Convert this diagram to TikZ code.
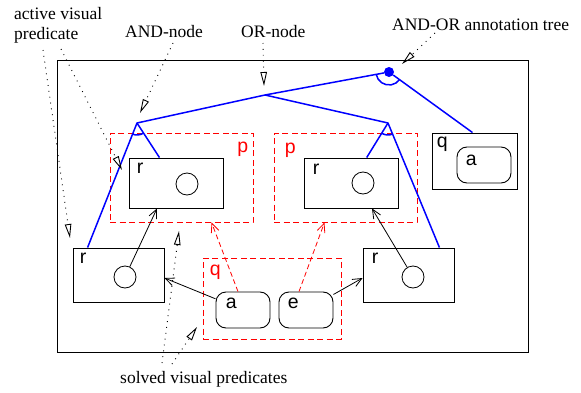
\documentclass[tikz,border=0pt]{standalone}
\usepackage{fontspec}
\setmainfont{Liberation Serif}
\setsansfont{Liberation Sans}
\usetikzlibrary{arrows.meta, positioning, angles}
\definecolor{treeblue}{RGB}{0, 0, 255}
\definecolor{predred}{RGB}{255, 0, 0}
\tikzset{
  frame/.style={draw, line width=1pt},
  pbox/.style={draw, line width=0.9pt, inner sep=0pt},
  slot/.style={draw, circle, line width=0.8pt, minimum size=22pt, inner sep=0pt},
  obj/.style={draw, line width=0.9pt, rounded corners=10pt, minimum width=54pt, minimum height=36pt, inner sep=0pt},
  group/.style={draw=predred, line width=0.9pt, dash pattern=on 6pt off 3.5pt, inner sep=0pt},
  lbl/.style={font=\sffamily\fontsize{19.5}{19.5}\selectfont, inner sep=0pt},
  rlbl/.style={lbl, text=predred},
  note/.style={font=\fontsize{17.5}{20}\selectfont, inner sep=0pt},
  pointer/.style={line width=0.9pt, dash pattern=on 0.9pt off 5pt, -{Triangle[open, length=14pt, width=6.5pt]}},
  tree/.style={treeblue, line width=1.5pt, line join=round},
  arr/.style={-{Straight Barb[length=9pt, width=8pt]}, line width=0.8pt},
  rarr/.style={arr, predred, dash pattern=on 5pt off 3pt}
}
\begin{document}
\begin{tikzpicture}[x=1pt, y=1pt]
  \useasboundingbox (0,0) rectangle (581,392);
  \node[frame, minimum width=471pt, minimum height=292pt] (scene) at (292.5,186) {};

  \node[group, minimum width=143pt, minimum height=89pt] (pl) at (181.5,214.5) {};
  \node[group, minimum width=143pt, minimum height=89pt] (pr) at (345.5,214.5) {};
  \node[group, minimum width=138pt, minimum height=81pt] (qr) at (272,93.5) {};
  \node[rlbl, below left=9pt and 5pt of pl.north east] (plp) {p};
  \node[rlbl, below right=10pt and 11pt of pr.north west] (prp) {p};
  \node[rlbl, below right=7pt and 7pt of qr.north west] (qrq) {q};

  \node[pbox, minimum width=94pt, minimum height=50pt] (ul) at (176,209) {};
  \node[pbox, minimum width=94pt, minimum height=50pt] (ur) at (351,209) {};
  \node[pbox, minimum width=91pt, minimum height=54pt] (ll) at (118.5,117) {};
  \node[pbox, minimum width=91pt, minimum height=54pt] (lr) at (408.5,117) {};
  \node[pbox, minimum width=85pt, minimum height=56pt] (qb) at (474.5,231) {};
  \node[lbl, below right=5pt and 8pt of ul.north west] (ulr) {r};
  \node[lbl, below right=6pt and 9pt of ur.north west] (urr) {r};
  \node[lbl, below right=5pt and 7pt of ll.north west] (llr) {r};
  \node[lbl, below right=5pt and 9pt of lr.north west] (lrr) {r};
  \node[lbl, below right=4pt and 5pt of qb.north west] (qbq) {q};

  \node[slot] (ulc) at (187,208) {};
  \node[slot] (urc) at (363,209) {};
  \node[slot] (llc) at (125,115) {};
  \node[slot] (lrc) at (413,115) {};

  \node[obj] (qa) at (484,227) {};
  \node[obj] (ba) at (243,82) {};
  \node[obj] (be) at (306,82) {};
  \node[lbl, below right=8pt and 9pt of qa.north west] (qaa) {a};
  \node[lbl, below right=6pt and 10pt of ba.north west] (baa) {a};
  \node[lbl, below right=6pt and 9pt of be.north west] (bee) {e};

  \node[circle, fill=treeblue, inner sep=0pt, minimum size=10pt] (root) at (389,320) {};
  \coordinate (orn) at (265,297);
  \coordinate (al) at (137,269);
  \coordinate (ar) at (388,269);
  \coordinate (qtop) at ([xshift=-2pt]qb.north);
  \coordinate (lltop) at ([xshift=15pt]ll.north west);
  \coordinate (lrtop) at ([xshift=-15pt]lr.north east);
  \draw[tree] (qtop) -- (root) -- (orn) -- (al) -- (lltop);
  \draw[tree] (orn) -- (ar) -- (lrtop);
  \draw[tree] (al) -- (ul);
  \draw[tree] (ar) -- (ur);
  \pic[draw, tree, angle radius=13pt] {angle=orn--root--qtop};
  \pic[draw, tree, angle radius=12pt] {angle=lltop--al--ul};
  \pic[draw, tree, angle radius=12pt] {angle=ur--ar--lrtop};

  \draw[arr] (llc) -- ([xshift=-19pt]ul.south);
  \draw[arr] (lrc) -- ([xshift=21pt]ur.south);
  \draw[arr] (ba) -- ([yshift=-3pt]ll.east);
  \draw[arr] (be) -- ([yshift=-3pt]lr.west);
  \draw[rarr] ([xshift=-5pt]ba.north) -- ([xshift=30pt]pl.south);
  \draw[rarr] ([xshift=-7pt]be.north) -- ([xshift=-21pt]pr.south);

  \node[note, align=left, anchor=north west] (active) at (14,385) {active visual\\predicate};
  \node[note, anchor=base west] (andlbl) at (125,355) {AND-node};
  \node[note, anchor=base west] (orlbl) at (241,355) {OR-node};
  \node[note, anchor=base west] (treelbl) at (392,361) {AND-OR annotation tree};
  \node[note, anchor=base west] (solved) at (120,9) {solved visual predicates};

  \coordinate (activefoot1) at (43,342);
  \coordinate (activefoot2) at (61,343);
  \coordinate (andfoot) at (173,349);
  \coordinate (orfoot) at (263,349);
  \coordinate (treefoot) at (435,359);
  \coordinate (solvedfoot1) at (162,29);
  \coordinate (solvedfoot2) at (172,28);
  \coordinate (lltip) at (70,154);
  \coordinate (ultip) at (122,222);
  \coordinate (andtip) at (140,279);
  \coordinate (ortip) at (264,306);
  \coordinate (roottip) at (402,328);
  \coordinate (pltip) at (179,161);
  \coordinate (qrtip) at (197,65);
  \draw[pointer] (activefoot1) -- (lltip);
  \draw[pointer] (activefoot2) -- (ultip);
  \draw[pointer] (andfoot) -- (andtip);
  \draw[pointer] (orfoot) -- (ortip);
  \draw[pointer] (treefoot) -- (roottip);
  \draw[pointer] (solvedfoot1) -- (pltip);
  \draw[pointer] (solvedfoot2) -- (qrtip);
\end{tikzpicture}
\end{document}
